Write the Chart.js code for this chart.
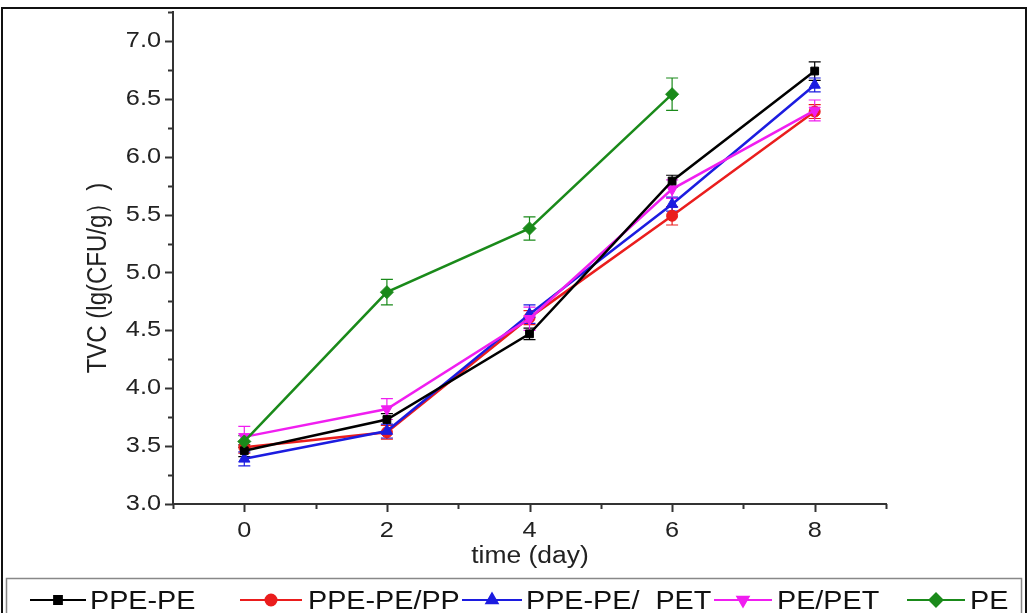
<!DOCTYPE html>
<html>
<head>
<meta charset="utf-8">
<script src="https://cdn.jsdelivr.net/npm/chart.js@4/dist/chart.umd.min.js"></script>
<style>
  html, body { margin: 0; padding: 0; background: #fff; }
  #wrap { width: 1030px; height: 613px; position: relative; }
</style>
</head>
<body>
<div id="wrap"><canvas id="c" width="1030" height="613"></canvas></div>
<script>
// Storage time (day)
const days = [0, 2, 4, 6, 8];

// TVC, lg(CFU/g), per packaging type
const ppePe     = [3.46, 3.73, 4.47, 5.79, 6.74];
const ppePePp   = [3.49, 3.62, 4.61, 5.49, 6.39];
const ppePePet  = [3.39, 3.63, 4.64, 5.59, 6.62];
const pePet     = [3.58, 3.82, 4.60, 5.72, 6.40];
const pe        = [3.54, 4.83, 5.38, 6.54];

// Standard deviations
const ppePeErr    = [0.05, 0.05, 0.05, 0.05, 0.08];
const ppePePpErr  = [0.05, 0.06, 0.06, 0.08, 0.06];
const ppePePetErr = [0.06, 0.06, 0.08, 0.06, 0.06];
const pePetErr    = [0.09, 0.09, 0.10, 0.08, 0.09];
const peErr       = [0.05, 0.11, 0.10, 0.14];

const seriesNames = ['PPE-PE', 'PPE-PE/PP', 'PPE-PE/  PET', 'PE/PET', 'PE'];
const xTickLabels = ['0', '2', '4', '6', '8'];
const yTickValues = [3.0, 3.5, 4.0, 4.5, 5.0, 5.5, 6.0, 6.5, 7.0];
const yTickLabels = ['3.0', '3.5', '4.0', '4.5', '5.0', '5.5', '6.0', '6.5', '7.0'];

function pts(vals) { return vals.map((v, i) => ({ x: days[i], y: v })); }

function makeSet(label, vals, errs, color, style, rot, radius, order) {
  return {
    label, data: pts(vals), errs,
    borderColor: color, backgroundColor: color,
    pointBackgroundColor: color, pointBorderColor: color,
    pointStyle: style, pointRotation: rot, pointRadius: radius,
    pointBorderWidth: 1, borderWidth: 2.5, tension: 0, order
  };
}

const datasets = [
  makeSet(seriesNames[0], ppePe,    ppePeErr,    '#000000', 'rect',     0,   5.5, 1),
  makeSet(seriesNames[1], ppePePp,  ppePePpErr,  '#ea1d1d', 'circle',   0,   5.5, 4),
  makeSet(seriesNames[2], ppePePet, ppePePetErr, '#1c1ce0', 'triangle', 0,   6.5, 3),
  makeSet(seriesNames[3], pePet,    pePetErr,    '#f01ef0', 'triangle', 180, 6.5, 2),
  makeSet(seriesNames[4], pe,       peErr,       '#1a8a1a', 'rectRot',  0,   6.5, 0)
];

const FONT = '"Liberation Sans", Arial, sans-serif';
const HSCALE = 1.15;   // slightly wide lettering

// text helper: horizontally widened glyphs
function text(ctx, str, x, y, size, align, baseline, color) {
  ctx.save();
  ctx.translate(x, y);
  ctx.scale(HSCALE, 1);
  ctx.font = size + 'px ' + FONT;
  ctx.textAlign = align;
  ctx.textBaseline = baseline;
  ctx.fillStyle = color || '#222';
  ctx.fillText(str, 0, 0);
  ctx.restore();
}

function drawMarker(ctx, ds, x, y) {
  Chart.helpers.drawPoint(ctx, {
    pointStyle: ds.pointStyle, rotation: ds.pointRotation,
    radius: ds.pointRadius, borderWidth: 1
  }, x, y);
}

const decor = {
  id: 'decor',
  beforeDraw(chart) {
    const ctx = chart.ctx;
    ctx.save();
    ctx.fillStyle = '#fff';
    ctx.fillRect(0, 0, chart.width, chart.height);
    ctx.restore();
  },
  beforeDatasetsDraw(chart) {
    // error bars
    const ctx = chart.ctx, xs = chart.scales.x, ys = chart.scales.y;
    ctx.save();
    chart.data.datasets.forEach(ds => {
      ctx.strokeStyle = ds.borderColor;
      ctx.lineWidth = 1.2;
      ds.data.forEach((p, i) => {
        const e = ds.errs[i];
        const px = xs.getPixelForValue(p.x);
        const y1 = ys.getPixelForValue(p.y + e);
        const y2 = ys.getPixelForValue(p.y - e);
        ctx.beginPath();
        ctx.moveTo(px, y1); ctx.lineTo(px, y2);
        ctx.moveTo(px - 6, y1); ctx.lineTo(px + 6, y1);
        ctx.moveTo(px - 6, y2); ctx.lineTo(px + 6, y2);
        ctx.stroke();
      });
    });
    ctx.restore();
  },
  afterDraw(chart) {
    const ctx = chart.ctx, xs = chart.scales.x, ys = chart.scales.y;
    const area = chart.chartArea;
    ctx.save();
    // tick marks, outward
    ctx.strokeStyle = '#333';
    ctx.lineWidth = 2;
    for (let v = -1; v <= 9; v += 1) {
      const px = Math.round(xs.getPixelForValue(v)) + 0.5;
      const len = (v % 2 === 0) ? 8 : 5;
      ctx.beginPath();
      ctx.moveTo(px, area.bottom); ctx.lineTo(px, area.bottom + len);
      ctx.stroke();
    }
    for (let k = 0; k <= 17; k++) {
      const v = 3 + k * 0.25;
      const py = Math.round(ys.getPixelForValue(v)) + 0.5;
      const len = (k % 2 === 0) ? 8 : 5;
      ctx.beginPath();
      ctx.moveTo(area.left, py); ctx.lineTo(area.left - len, py);
      ctx.stroke();
    }
    // tick labels
    days.forEach((d, i) => {
      text(ctx, xTickLabels[i], xs.getPixelForValue(d), area.bottom + 27, 22, 'center', 'middle');
    });
    yTickValues.forEach((v, i) => {
      text(ctx, yTickLabels[i], area.left - 12, ys.getPixelForValue(v), 22, 'right', 'middle');
    });

    // axis titles
    text(ctx, 'time (day)', 530, 557, 23, 'center', 'middle');
    ctx.save();
    ctx.translate(98, 278);
    ctx.scale(HSCALE, 1);
    ctx.rotate(-Math.PI / 2);
    ctx.font = '24px ' + FONT;
    ctx.textAlign = 'center';
    ctx.textBaseline = 'middle';
    ctx.fillStyle = '#222';
    ctx.fillText('TVC (lg(CFU/g）)', 0, 0);
    ctx.restore();

    // outer frame
    ctx.strokeStyle = '#111';
    ctx.lineWidth = 2;
    ctx.strokeRect(2, 8, 1024, 640);

    // legend box
    ctx.fillStyle = '#fff';
    ctx.fillRect(6, 578, 1016, 40);
    ctx.strokeStyle = '#888';
    ctx.lineWidth = 1.5;
    ctx.strokeRect(6.5, 578.5, 1015, 40);

    // legend entries
    const legendLines = [[30, 86], [240, 302], [462, 522], [714, 772], [907, 965]];
    const legendTextX = [90, 308, 526, 777, 970];
    const ly = 600;
    chart.data.datasets.forEach((ds, i) => {
      const [a, b] = legendLines[i];
      ctx.strokeStyle = ds.borderColor;
      ctx.lineWidth = 2;
      ctx.beginPath();
      ctx.moveTo(a, ly); ctx.lineTo(b, ly);
      ctx.stroke();
      ctx.fillStyle = ds.borderColor;
      ctx.strokeStyle = ds.borderColor;
      drawMarker(ctx, ds, (a + b) / 2, ly);
      text(ctx, ds.label, legendTextX[i], 609, 25, 'left', 'alphabetic', '#111');
    });
    ctx.restore();
  }
};

new Chart(document.getElementById('c'), {
  type: 'line',
  data: { datasets },
  options: {
    responsive: false,
    animation: false,
    layout: { padding: { top: 12, right: 144, left: 0, bottom: 0 } },
    plugins: { legend: { display: false }, tooltip: { enabled: false } },
    scales: {
      x: {
        type: 'linear', min: -1, max: 9,
        afterFit(s) { s.height = 109; },
        grid: { display: false, drawTicks: false },
        border: { display: true, color: '#333', width: 2 },
        ticks: { display: false, stepSize: 1 }
      },
      y: {
        min: 3, max: 7.25,
        afterFit(s) { s.width = 173; },
        grid: { display: false, drawTicks: false },
        border: { display: true, color: '#333', width: 2 },
        ticks: { display: false, stepSize: 0.25 }
      }
    }
  },
  plugins: [decor]
});
</script>
</body>
</html>
